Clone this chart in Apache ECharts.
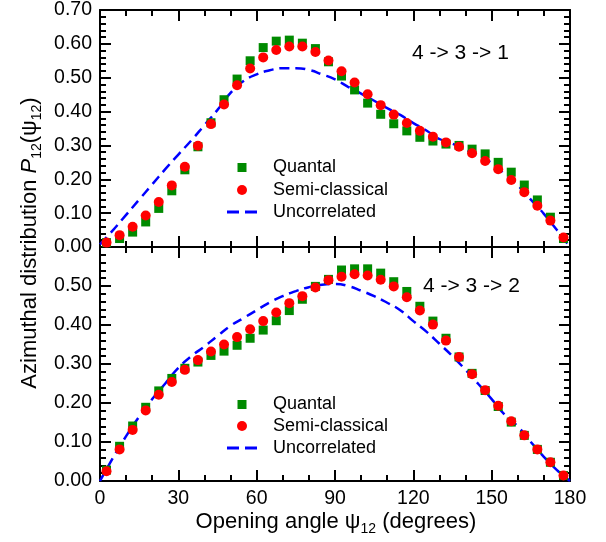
<!DOCTYPE html>
<html>
<head>
<meta charset="utf-8">
<script src="https://cdn.jsdelivr.net/npm/echarts@6/dist/echarts.min.js"></script>
<style>html,body{margin:0;padding:0;background:#fff}#c{width:606px;height:542px}</style>
</head>
<body>
<div id="c"></div>
<script>
// ---- data ----
const angles = [2.5, 7.5, 12.5, 17.5, 22.5, 27.5, 32.5, 37.5, 42.5, 47.5, 52.5, 57.5, 62.5, 67.5, 72.5, 77.5, 82.5, 87.5,
  92.5, 97.5, 102.5, 107.5, 112.5, 117.5, 122.5, 127.5, 132.5, 137.5, 142.5, 147.5, 152.5, 157.5, 162.5, 167.5, 172.5, 177.5];
const quantalTop = [0.013, 0.025, 0.044, 0.074, 0.114, 0.166, 0.228, 0.296, 0.367, 0.435, 0.496, 0.550, 0.589, 0.608, 0.611, 0.602, 0.586, 0.547,
  0.505, 0.464, 0.425, 0.392, 0.364, 0.343, 0.324, 0.313, 0.304, 0.300, 0.289, 0.275, 0.250, 0.221, 0.183, 0.139, 0.088, 0.025];
const semiTop = [0.013, 0.035, 0.060, 0.093, 0.133, 0.182, 0.237, 0.299, 0.363, 0.421, 0.478, 0.527, 0.560, 0.582, 0.592, 0.592, 0.576, 0.551,
  0.519, 0.486, 0.451, 0.419, 0.391, 0.366, 0.343, 0.326, 0.309, 0.296, 0.277, 0.254, 0.230, 0.198, 0.162, 0.122, 0.078, 0.028];
const quantalBot = [0.028, 0.089, 0.141, 0.189, 0.231, 0.263, 0.289, 0.305, 0.322, 0.333, 0.348, 0.366, 0.387, 0.411, 0.437, 0.466, 0.499, 0.517,
  0.541, 0.544, 0.544, 0.533, 0.511, 0.486, 0.448, 0.410, 0.366, 0.318, 0.276, 0.232, 0.191, 0.151, 0.117, 0.081, 0.048, 0.014];
const semiBot = [0.025, 0.081, 0.131, 0.181, 0.221, 0.254, 0.285, 0.310, 0.332, 0.350, 0.369, 0.389, 0.410, 0.432, 0.456, 0.474, 0.496, 0.515,
  0.524, 0.530, 0.527, 0.516, 0.499, 0.471, 0.437, 0.401, 0.360, 0.318, 0.274, 0.233, 0.193, 0.153, 0.117, 0.081, 0.048, 0.014];
const uncAngles = [0, 5, 10, 15, 20, 25, 30, 35, 40, 45, 50, 55, 60, 65, 70, 75, 80, 85, 90,
  95, 100, 105, 110, 115, 120, 125, 130, 135, 140, 145, 150, 155, 160, 165, 170, 175, 180];
const uncTop = [0.008, 0.050, 0.095, 0.140, 0.185, 0.230, 0.273, 0.315, 0.360, 0.405, 0.455, 0.490, 0.510, 0.522, 0.528, 0.528, 0.523, 0.510, 0.495,
  0.473, 0.453, 0.432, 0.410, 0.390, 0.366, 0.344, 0.319, 0.305, 0.288, 0.268, 0.248, 0.215, 0.182, 0.140, 0.098, 0.050, 0.000];
const uncBot = [0.000, 0.060, 0.115, 0.165, 0.210, 0.250, 0.290, 0.320, 0.345, 0.372, 0.398, 0.418, 0.438, 0.458, 0.474, 0.487, 0.497, 0.503, 0.505,
  0.500, 0.488, 0.474, 0.457, 0.438, 0.410, 0.383, 0.352, 0.320, 0.285, 0.248, 0.210, 0.170, 0.140, 0.100, 0.062, 0.028, 0.000];
const xTicks = [0, 30, 60, 90, 120, 150, 180];
const yTicksTop = [0, 0.1, 0.2, 0.3, 0.4, 0.5, 0.6, 0.7];
const yTicksBot = [0, 0.1, 0.2, 0.3, 0.4, 0.5];
const seriesNames = ['Quantal', 'Semi-classical', 'Uncorrelated'];
const panelLabels = ['4 -> 3 -> 1', '4 -> 3 -> 2'];

// ---- chart ----
const FONT = 'Liberation Sans, Arial, Helvetica, sans-serif';
const GREEN = '#008a00', RED = '#ff0000', BLUE = '#0000ff';
const chart = echarts.init(document.getElementById('c'), null, {renderer: 'canvas'});

function zip(xs, ys) { return xs.map((x, i) => [x, ys[i]]); }

function xAxis(grid, pos, labels) {
  return {
    type: 'value', gridIndex: grid, position: pos, min: xTicks[0], max: xTicks[xTicks.length - 1], interval: 30,
    axisLine: {show: true, onZero: false, lineStyle: {color: '#000', width: 2}},
    axisTick: {show: true, inside: true, length: 11, lineStyle: {color: '#000', width: 2}},
    minorTick: {show: true, splitNumber: 3, length: 6, lineStyle: {color: '#000', width: 2}},
    splitLine: {show: false},
    axisLabel: {show: labels, color: '#000', fontSize: 19.5, fontFamily: FONT, margin: 8}
  };
}
function yAxis(grid, pos, labels, ticks) {
  return {
    type: 'value', gridIndex: grid, position: pos, min: ticks[0], max: grid === 0 ? 0.7 : 0.6, interval: 0.1,
    axisLine: {show: true, onZero: false, lineStyle: {color: '#000', width: 2}},
    axisTick: {show: true, inside: true, length: 11, lineStyle: {color: '#000', width: 2}},
    minorTick: {show: true, splitNumber: 5, length: 6, lineStyle: {color: '#000', width: 2}},
    splitLine: {show: false},
    axisLabel: {show: labels, color: '#000', fontSize: 19.5, fontFamily: FONT, margin: 8,
      formatter: v => (ticks.some(t => Math.abs(t - v) < 1e-9) ? v.toFixed(2) : '')}
  };
}
function seriesFor(grid, q, s, u) {
  const xi = grid * 2, yi = grid * 2;
  return [
    {name: seriesNames[2], type: 'line', xAxisIndex: xi, yAxisIndex: yi, data: zip(uncAngles, u),
      showSymbol: false, symbol: 'none', smooth: true, z: 2,
      lineStyle: {color: BLUE, width: 2.5, type: [10, 6]}, itemStyle: {color: BLUE}},
    {name: seriesNames[0], type: 'scatter', xAxisIndex: xi, yAxisIndex: yi, data: zip(angles, q),
      symbol: 'rect', symbolSize: 9, itemStyle: {color: GREEN, opacity: 1}, z: 3},
    {name: seriesNames[1], type: 'scatter', xAxisIndex: xi, yAxisIndex: yi, data: zip(angles, s),
      symbol: 'circle', symbolSize: 10, itemStyle: {color: RED, opacity: 1}, z: 4}
  ];
}
const TEXT_X = 273;
const ICON_CX = 242;
function legendRow(name, icon, w, h, cy) {
  const left = ICON_CX - w / 2;
  return {
    left: left, top: cy - 10, padding: 0, orient: 'vertical', itemWidth: w, itemHeight: h,
    selectedMode: false,
    data: [{name: name, icon: icon}],
    textStyle: {color: '#000', fontSize: 18, lineHeight: 20, fontFamily: FONT,
      padding: [0, 0, 0, TEXT_X - (left + w + 5)]}
  };
}
const DASH_ICON = 'path://M0,0h12v3h-12zM18,0h12v3h-12z';
function legendsFor(cys) {
  return [
    legendRow(seriesNames[0], 'rect', 9, 9, cys[0]),
    legendRow(seriesNames[1], 'circle', 10, 10, cys[1]),
    legendRow(seriesNames[2], DASH_ICON, 30, 3, cys[2])
  ];
}
const subRich = {
  n: {fontSize: 22, fontFamily: FONT, fill: '#000', lineHeight: 28, verticalAlign: 'middle'},
  i: {fontSize: 22, fontFamily: FONT, fill: '#000', fontStyle: 'italic', lineHeight: 28, verticalAlign: 'middle'},
  s: {fontSize: 14, fontFamily: FONT, fill: '#000', lineHeight: 14, verticalAlign: 'bottom'}
};

chart.setOption({
  animation: false,
  backgroundColor: '#fff',
  grid: [
    {left: 100, top: 10, width: 470, height: 237, containLabel: false},
    {left: 100, top: 247, width: 470, height: 234, containLabel: false}
  ],
  xAxis: [xAxis(0, 'bottom', false), xAxis(0, 'top', false), xAxis(1, 'bottom', true), xAxis(1, 'top', false)],
  yAxis: [yAxis(0, 'left', true, yTicksTop), yAxis(0, 'right', false, yTicksTop), yAxis(1, 'left', true, yTicksBot), yAxis(1, 'right', false, yTicksBot)],
  legend: [].concat(legendsFor([167.5, 190, 212]), legendsFor([404.5, 426, 448])),
  series: [].concat(seriesFor(0, quantalTop, semiTop, uncTop), seriesFor(1, quantalBot, semiBot, uncBot)),
  graphic: [
    {type: 'text', left: 412, top: 43, style: {text: panelLabels[0], fontSize: 21, fontFamily: FONT, fill: '#000'}},
    {type: 'text', left: 423, top: 276, style: {text: panelLabels[1], fontSize: 21, fontFamily: FONT, fill: '#000'}},
    {type: 'text', x: 336, y: 522, style: {
      text: '{n|Opening angle ψ}{s|12}{n| (degrees)}', rich: subRich, align: 'center', verticalAlign: 'middle'}},
    {type: 'text', x: 30, y: 243, rotation: Math.PI / 2, style: {
      text: '{n|Azimuthal distribution }{i|P}{s|12}{n|(ψ}{s|12}{n|)}', rich: subRich, align: 'center', verticalAlign: 'middle'}}
  ]
});
</script>
</body>
</html>
